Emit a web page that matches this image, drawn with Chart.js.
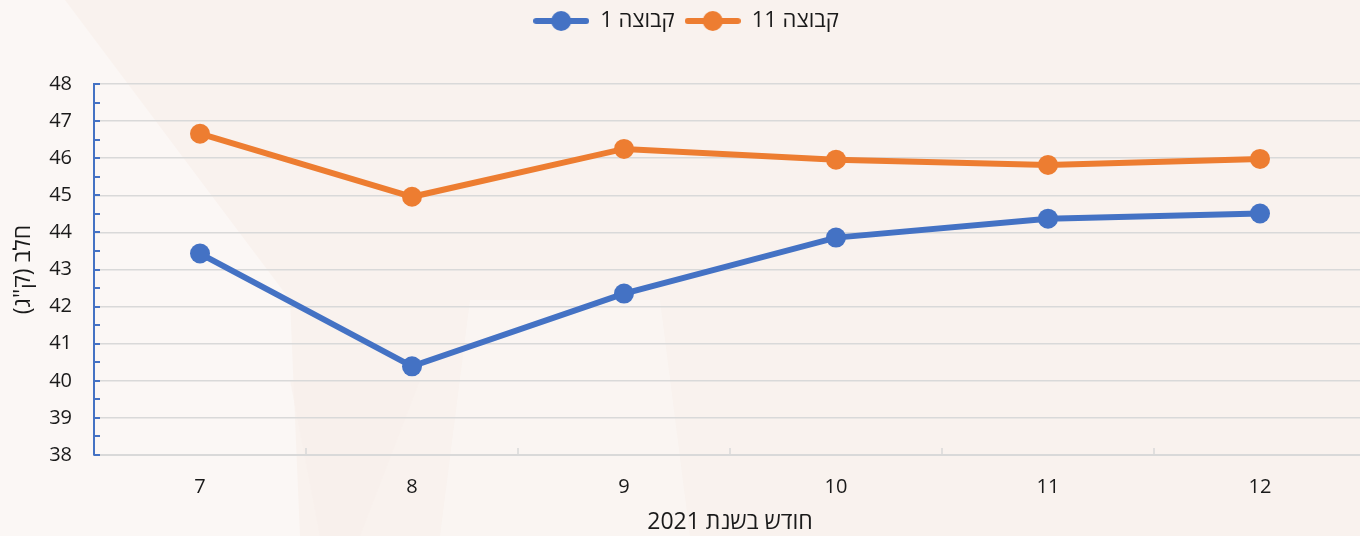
<!DOCTYPE html>
<html lang="he">
<head>
<meta charset="UTF-8">
<title>חלב לפי חודש</title>
<script src="https://cdn.jsdelivr.net/npm/chart.js"></script>
<style>
    html, body {
        margin: 0;
        padding: 0;
        width: 1360px;
        height: 536px;
        overflow: hidden;
        background: #f9f2ee;
    }
    .bg {
        position: absolute;
        top: 0; left: 0;
        width: 1360px; height: 536px;
    }
    .light1 { background: #fbf7f5; clip-path: polygon(0 0, 65px 0, 290px 300px, 300px 536px, 0 536px); }
    .light2 { background: #fbf6f4; clip-path: polygon(440px 536px, 690px 536px, 660px 300px, 470px 300px); opacity: .7; }
    .dark1  { background: #f8f0eb; clip-path: polygon(290px 380px, 420px 380px, 360px 536px, 320px 536px); opacity: .7; }
    canvas {
        position: absolute;
        top: 0; left: 0;
        direction: rtl;
    }
</style>
</head>
<body>
<div class="bg light1"></div>
<div class="bg light2"></div>
<div class="bg dark1"></div>
<canvas id="grafico" width="1376" height="536"></canvas>

<script>
    // נתונים
    const months = ['7', '8', '9', '10', '11', '12'];
    const group1 = [43.43, 40.39, 42.35, 43.86, 44.37, 44.51];
    const group11 = [46.66, 44.96, 46.25, 45.96, 45.82, 45.98];
    const seriesNames = ['קבוצה 1', 'קבוצה 11'];
    const yTitle = 'חלב (ק"ג)';
    const xTitle = 'חודש בשנת 2021';

    const BLUE = '#4472c4';
    const ORANGE = '#ed7d31';
    const GRID = '#d9d9d9';
    const TEXT = '#1a1a1a';
    const FONT = '"Open Sans", "DejaVu Sans", sans-serif';

    // marker for the legend: thick line with a dot in the middle
    function legendMarker(color) {
        const c = document.createElement('canvas');
        c.width = 56;
        c.height = 22;
        const g = c.getContext('2d');
        g.strokeStyle = color;
        g.lineWidth = 6;
        g.lineCap = 'round';
        g.beginPath();
        g.moveTo(3, 11);
        g.lineTo(53, 11);
        g.stroke();
        g.fillStyle = color;
        g.beginPath();
        g.arc(28, 11, 10, 0, Math.PI * 2);
        g.fill();
        return c;
    }
    const markers = [legendMarker(BLUE), legendMarker(ORANGE)];

    // legend gets extra room under it so the plot starts lower
    const legendGap = {
        id: 'legendGap',
        beforeInit(chart) {
            const fit = chart.legend.fit;
            chart.legend.fit = function () {
                fit.bind(chart.legend)();
                this.height += 42;
            };
        }
    };

    // small tick marks drawn inside the plot, like the original
    const tickMarks = {
        id: 'tickMarks',
        beforeDatasetsDraw(chart) {
            const c = chart.ctx;
            const y = chart.scales.y;
            const x = chart.scales.x;
            c.save();
            c.strokeStyle = BLUE;
            c.lineWidth = 2;
            for (let v = 38; v <= 48; v += 0.5) {
                const py = Math.round(y.getPixelForValue(v));
                c.beginPath();
                c.moveTo(x.left, py);
                c.lineTo(x.left + 6, py);
                c.stroke();
            }
            c.strokeStyle = GRID;
            c.lineWidth = 1.5;
            for (let i = 0; i < months.length - 1; i++) {
                const px = (x.getPixelForValue(i) + x.getPixelForValue(i + 1)) / 2;
                c.beginPath();
                c.moveTo(px, y.bottom);
                c.lineTo(px, y.bottom - 7);
                c.stroke();
            }
            c.restore();
        }
    };

    const ctx = document.getElementById('grafico').getContext('2d');
    new Chart(ctx, {
        type: 'line',
        data: {
            labels: months,
            datasets: [{
                label: seriesNames[0],
                data: group1,
                borderColor: BLUE,
                backgroundColor: BLUE,
                borderWidth: 6,
                pointRadius: 10,
                pointHoverRadius: 10,
                pointBorderWidth: 0,
                tension: 0
            }, {
                label: seriesNames[1],
                data: group11,
                borderColor: ORANGE,
                backgroundColor: ORANGE,
                borderWidth: 6,
                pointRadius: 10,
                pointHoverRadius: 10,
                pointBorderWidth: 0,
                tension: 0
            }]
        },
        options: {
            responsive: false,
            animation: false,
            layout: {
                padding: { top: 0, right: 4, bottom: 0, left: 0 }
            },
            plugins: {
                legend: {
                    position: 'top',
                    labels: {
                        usePointStyle: true,
                        pointStyleWidth: 56,
                        boxHeight: 20,
                        padding: 10,
                        color: TEXT,
                        font: { family: FONT, size: 22 },
                        generateLabels(chart) {
                            const items = Chart.defaults.plugins.legend.labels.generateLabels(chart);
                            items.forEach(it => { it.pointStyle = markers[it.datasetIndex]; });
                            return items;
                        }
                    }
                },
                tooltip: { enabled: false }
            },
            scales: {
                x: {
                    offset: true,
                    afterFit(scale) { scale.height = 81; },
                    grid: { display: false, drawTicks: false },
                    border: { display: true, color: GRID, width: 2 },
                    ticks: {
                        padding: 20,
                        color: TEXT,
                        font: { family: FONT, size: 20 }
                    },
                    title: {
                        display: true,
                        text: xTitle,
                        color: TEXT,
                        font: { family: FONT, size: 23 },
                        padding: { top: 0, bottom: 0 }
                    }
                },
                y: {
                    min: 38,
                    max: 48,
                    afterFit(scale) { scale.width = 94; },
                    grid: { color: GRID, lineWidth: 1.5, drawTicks: false },
                    border: { display: true, color: BLUE, width: 2 },
                    ticks: {
                        stepSize: 1,
                        padding: 22,
                        color: TEXT,
                        font: { family: FONT, size: 20 }
                    },
                    title: {
                        display: true,
                        text: yTitle,
                        color: TEXT,
                        font: { family: FONT, size: 23 },
                        padding: { top: 10, bottom: 0 }
                    }
                }
            }
        },
        plugins: [legendGap, tickMarks]
    });
</script>
</body>
</html>
